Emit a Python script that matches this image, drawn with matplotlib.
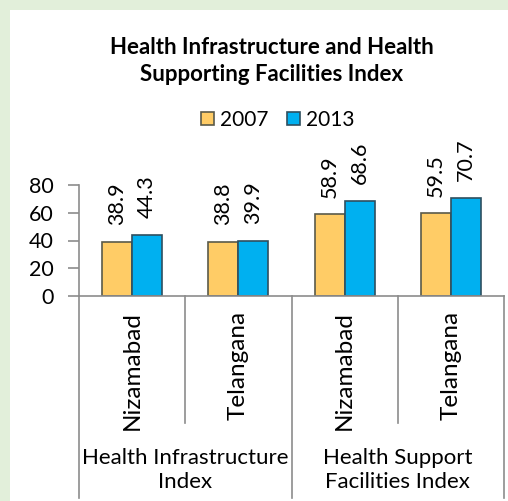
import matplotlib
matplotlib.use("Agg")
import matplotlib.pyplot as plt
from matplotlib.patches import Rectangle
from matplotlib.lines import Line2D
import numpy as np

plt.rcParams['font.family'] = ['Lato', 'DejaVu Sans']

title = "Health Infrastructure and Health\nSupporting Facilities Index"
series_names = ["2007", "2013"]
categories = ["Nizamabad", "Telangana", "Nizamabad", "Telangana"]
groups = ["Health Infrastructure\nIndex", "Health Support\nFacilities Index"]
values_2007 = [38.9, 38.8, 58.9, 59.5]
values_2013 = [44.3, 39.9, 68.6, 70.7]
yticks = [0, 20, 40, 60, 80]

W, H = 508, 501
fig = plt.figure(figsize=(W / 100, H / 100), dpi=100)
fig.patch.set_facecolor("#e2efda")
# white chart panel
fig.add_artist(Rectangle((10 / W, 0), 1 - 10 / W, 1 - 10 / H, transform=fig.transFigure,
                         facecolor="white", edgecolor="none", zorder=0))

x_left, x_right = 79, 504
y_top, y_zero = 185, 296
ax = fig.add_axes([x_left / W, 1 - y_zero / H, (x_right - x_left) / W, (y_zero - y_top) / H])
ax.set_facecolor("none")

n = len(categories)
x = np.arange(n)
bw = 0.283
c07 = "#ffcc66"
c13 = "#00b0f0"
b1 = ax.bar(x - bw / 2, values_2007, bw, color=c07, edgecolor="#5a5a4a", linewidth=1.2, label=series_names[0])
b2 = ax.bar(x + bw / 2, values_2013, bw, color=c13, edgecolor="#2f4f5f", linewidth=1.2, label=series_names[1])

fs = 15.5
for bars, vals in ((b1, values_2007), (b2, values_2013)):
    for rect, v in zip(bars, vals):
        ax.annotate(f"{v:.1f}", (rect.get_x() + rect.get_width() / 2, v),
                    xytext=(0, 12), textcoords="offset points",
                    rotation=90, ha="center", va="bottom", fontsize=fs, color="black")

ax.set_xlim(-0.5, n - 0.5)
ax.set_ylim(0, 80)
ax.set_yticks(yticks)
ax.set_yticklabels([str(t) for t in yticks], fontsize=fs)
ax.tick_params(axis="y", length=8, width=1.2, color="#8c8c8c", direction="out", pad=10)
ax.set_xticks([])
for s in ("top", "right"):
    ax.spines[s].set_visible(False)
for s in ("left", "bottom"):
    ax.spines[s].set_color("#8c8c8c")
    ax.spines[s].set_linewidth(1.2)

def fy(py):
    return 1 - py / H

cat_w = (x_right - x_left) / n
for i, c in enumerate(categories):
    cx = x_left + cat_w * (i + 0.5)
    fig.text(cx / W, fy(311), c, rotation=90, ha="center", va="top", fontsize=17.5)
for i in range(n + 1):
    px = x_left + cat_w * i
    bottom = 498 if i % 2 == 0 else 423
    fig.add_artist(Line2D([px / W, px / W], [fy(y_zero), fy(bottom)], transform=fig.transFigure,
                          color="#8c8c8c", linewidth=1.2))
for g, name in enumerate(groups):
    gx = x_left + cat_w * (2 * g + 1)
    fig.text(gx / W, fy(470), name, ha="center", va="center", fontsize=16, linespacing=1.3)

fig.text(272 / W, fy(61), title, ha="center", va="center", fontsize=16, fontweight="bold",
         linespacing=1.3)

fig.legend(handles=[b1, b2], labels=series_names, loc="center", bbox_to_anchor=(278 / W, fy(120)),
           ncol=2, frameon=False, fontsize=15, handlelength=0.6, handleheight=0.6,
           handletextpad=0.3, columnspacing=0.9, borderaxespad=0)

fig.savefig("out.png", dpi=100, facecolor=fig.get_facecolor())
